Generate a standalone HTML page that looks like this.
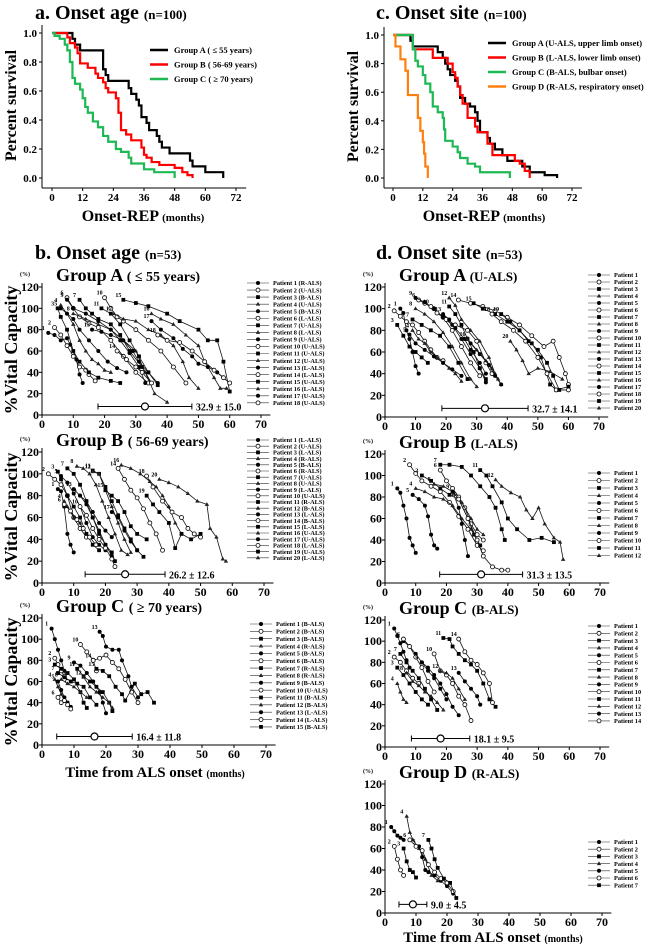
<!DOCTYPE html>
<html><head><meta charset="utf-8"><style>
body{margin:0;background:#fff;}
svg{display:block;font-family:"Liberation Serif",serif;font-weight:bold;}
</style></head><body>
<svg id="fig" width="667" height="949" viewBox="0 0 667 949" xmlns="http://www.w3.org/2000/svg">
<g id="static"></g>
</svg>
<script>
// ---- Survival data (time months, survival fraction) ----
const survATimes=[0,8,9,11,13,20,21,22,30,31,33,34,35,37,38,41,42,43,46,54,55,60,67];
const survAVals=[1,0.96,0.92,0.88,0.88,0.75,0.71,0.67,0.62,0.58,0.54,0.50,0.42,0.38,0.33,0.29,0.25,0.21,0.17,0.12,0.08,0.04,0];
const survBTimes=[0,6,7,9,10,11,14,17,18,20,21,22,25,26,27,29,31,35,36,37,39,42,48,51,53,55];
const survBVals=[1,0.97,0.93,0.90,0.86,0.79,0.76,0.72,0.69,0.66,0.62,0.59,0.55,0.45,0.33,0.30,0.26,0.21,0.16,0.14,0.11,0.09,0.07,0.04,0.02,0];
const survCTimes=[0,1,3,5,6,7,8,9,11,12,13,14,16,18,20,22,25,27,30,31,36,40,48];
const survCVals=[1,0.98,0.96,0.92,0.88,0.80,0.69,0.65,0.61,0.55,0.49,0.45,0.39,0.35,0.29,0.25,0.20,0.18,0.14,0.10,0.06,0.04,0];
const siteATimes=[0,7,8,18,20,21,22,23,25,26,27,29,31,33,34,35,38,39,41,44,46,52,55,61,66];
const siteAVals=[1,0.96,0.92,0.88,0.84,0.80,0.76,0.72,0.68,0.64,0.56,0.52,0.50,0.46,0.40,0.32,0.28,0.24,0.20,0.16,0.12,0.08,0.04,0.02,0];
const siteBTimes=[0,8,16,22,24,25,26,27,28,30,33,34,38,40,49,51,53,55];
const siteBVals=[1,0.90,0.84,0.80,0.74,0.70,0.64,0.58,0.52,0.42,0.36,0.32,0.24,0.16,0.12,0.10,0.05,0];
const siteCTimes=[0,8,9,10,12,13,15,16,18,20,20.5,21,24,26,27,30,33,35,47];
const siteCVals=[1,0.90,0.82,0.78,0.72,0.66,0.60,0.50,0.46,0.42,0.34,0.26,0.22,0.18,0.14,0.10,0.08,0.04,0];
const siteDTimes=[0,1,3,5,6,10,11,12,12.5,13,14];
const siteDVals=[1,0.92,0.83,0.75,0.58,0.42,0.33,0.25,0.17,0.08,0];
const survTicksX=[0,12,24,36,48,60,72];
const survTicksY=[0,0.2,0.4,0.6,0.8,1.0];
const vcTicksX=[0,10,20,30,40,50,60,70];
const vcTicksY=[0,20,40,60,80,100,120];

// ---- %VC trajectories ----
const bA=[
[[2,77],[4,75],[6,70],[8,72],[9,66],[11,52],[12,38],[13,30]],
[[4,82],[6,75],[8,65],[10,55],[12,45],[14,42],[15,38],[17,32]],
[[5,100],[6,92],[8,80],[10,60],[12,50],[15,40],[18,35],[22,32],[25,30]],
[[6,103],[8,95],[10,85],[12,70],[14,60],[16,52],[18,48],[20,42],[22,40]],
[[6,100],[8,95],[10,90],[12,80],[15,70],[18,60],[21,50],[24,44],[27,40]],
[[8,110],[10,100],[12,92],[15,86],[18,82],[22,70],[26,55],[30,40],[34,30]],
[[12,108],[14,100],[16,95],[18,90],[22,85],[25,75],[28,60],[32,45],[35,30]],
[[10,95],[14,90],[18,85],[22,80],[26,70],[30,60],[33,40],[36,20],[40,12]],
[[8,108],[10,100],[14,95],[18,88],[22,80],[25,70],[28,58],[31,45],[33,30]],
[[20,110],[22,100],[24,92],[26,88],[30,80],[34,70],[38,60],[42,45],[46,30]],
[[19,100],[22,95],[25,85],[28,70],[31,55],[34,40],[37,28]],
[[23,95],[26,90],[30,88],[34,80],[38,75],[42,65],[45,50],[47,35],[50,25]],
[[16,80],[19,78],[22,75],[26,70],[29,60],[31,50],[34,40],[37,30]],
[[24,60],[27,52],[30,45],[32,40],[35,30]],
[[26,108],[30,105],[34,102],[40,95],[44,88],[50,80],[53,70],[56,70],[58,50],[60,22]],
[[35,95],[38,90],[42,85],[46,75],[50,65],[52,50],[55,35],[57,25],[59,25]],
[[35,88],[38,80],[42,72],[45,62],[48,55],[50,48],[53,45],[56,40],[60,30]],
[[37,75],[40,70],[44,68],[48,60],[52,50],[55,42],[58,35],[60,30]]];
const bB=[
[[5,86],[6,84],[7,70],[8,45],[9,35],[10,28]],
[[2,100],[4,95],[6,90],[8,80],[10,60],[12,50],[14,42]],
[[5,102],[6,95],[8,80],[10,70],[12,60],[14,45],[16,35],[18,30]],
[[7,75],[8,70],[9,65],[10,60],[12,55]],
[[6,98],[8,92],[10,82],[12,70],[14,55],[16,42],[18,35],[20,30]],
[[7,72],[9,66],[11,58],[13,50],[15,42],[17,35]],
[[8,105],[10,100],[12,90],[14,75],[16,60],[18,45],[20,35],[22,28],[23,20]],
[[11,107],[13,105],[15,100],[17,90],[19,75],[21,60],[23,45],[25,30],[27,26]],
[[12,80],[14,72],[16,60],[18,48],[20,35],[22,25]],
[[12,70],[14,62],[16,50],[18,40],[20,32],[22,22],[23,15]],
[[16,103],[18,100],[20,88],[22,75],[24,62],[26,50],[28,40],[30,30],[32,24]],
[[16,102],[18,100],[20,85],[22,70],[24,55],[26,40],[28,28]],
[[10,86],[12,80],[14,75],[16,65],[18,55],[20,48],[22,42]],
[[24,105],[26,95],[28,85],[30,78],[32,68],[34,55],[36,45],[38,30]],
[[20,85],[22,80],[24,75],[26,65],[28,52],[30,45],[33,40]],
[[25,108],[28,105],[31,100],[34,93],[36,88],[38,80],[40,70],[42,55],[44,45]],
[[22,65],[24,60],[26,48],[28,38],[30,30]],
[[33,98],[35,88],[38,75],[41,65],[44,60],[46,50],[48,45],[50,42]],
[[33,80],[35,72],[37,65],[40,55],[42,32],[44,45],[47,40],[50,45]],
[[37,95],[40,92],[43,88],[46,82],[49,75],[52,72],[53,50],[55,42],[57,22],[58,20]]];
const bC=[
[[3,110],[4,100],[5,90],[6,80],[7,70],[8,60]],
[[4,82],[5,76],[6,70],[7,65],[8,60]],
[[4,76],[6,72],[8,68],[10,62],[12,50],[13,40],[14,35]],
[[4,62],[5,55],[6,48],[7,42],[8,38]],
[[5,60],[6,52],[7,45],[8,40],[9,36]],
[[5,45],[6,40],[7,42],[8,38],[9,34]],
[[5,68],[7,64],[9,60],[11,58],[13,55],[15,45],[17,38]],
[[6,62],[8,58],[10,55],[12,50],[14,45]],
[[10,78],[12,75],[14,68],[16,60],[18,50],[19,40],[20,30]],
[[12,95],[14,88],[16,80],[17,70]],
[[11,72],[13,65],[15,60],[17,55],[19,50],[21,40],[22,32]],
[[13,64],[15,55],[17,50],[19,45],[21,40],[22,35]],
[[18,107],[19,103],[20,93],[22,90],[24,90],[25,80],[27,65],[28,55],[30,45]],
[[16,80],[18,82],[20,85],[22,78],[24,72],[26,62],[28,50],[30,40]],
[[17,72],[19,70],[21,65],[23,55],[25,48],[26,42],[29,58],[31,48],[33,50],[35,40]]];
const dA=[
[[5,100],[6,96],[7,80],[8,72],[9,60],[10,47],[11,40]],
[[3,98],[5,93],[7,88],[9,85],[11,78],[13,70],[15,62],[17,55],[19,52]],
[[4,85],[6,75],[8,65],[10,60],[12,55],[14,50]],
[[9,80],[11,72],[13,68],[15,60],[17,55],[19,50],[21,45],[23,40],[25,33]],
[[8,76],[10,68],[13,62],[16,56],[19,50],[22,44],[25,38]],
[[11,108],[13,105],[16,100],[19,92],[22,80],[25,65],[28,50],[31,38]],
[[9,90],[12,85],[15,80],[18,75],[21,65],[24,50],[27,35]],
[[10,100],[13,95],[16,88],[19,78],[22,65],[25,50],[28,35],[30,28]],
[[10,110],[13,106],[16,100],[19,92],[22,85],[25,72],[28,58],[31,45],[33,32]],
[[15,102],[17,96],[20,90],[23,85],[27,80],[30,70],[33,50],[35,40]],
[[21,102],[23,95],[25,85],[27,72],[29,60],[31,45],[33,35]],
[[21,110],[23,103],[25,90],[28,80],[31,70],[34,55],[36,40],[38,30]],
[[19,95],[21,90],[23,82],[26,72],[28,62],[31,50],[33,40]],
[[24,108],[28,105],[32,102],[36,98],[40,92],[44,85],[48,75],[52,65],[55,70],[57,55],[59,40],[60,30]],
[[29,105],[32,100],[36,95],[40,88],[44,80],[48,68],[51,55],[54,30],[56,25],[60,28]],
[[27,72],[30,62],[33,52],[35,45],[37,35]],
[[28,68],[31,58],[34,48],[36,38],[38,30]],
[[35,95],[38,88],[42,80],[46,70],[50,55],[53,40],[56,25],[60,25]],
[[38,95],[41,88],[44,80],[47,70],[50,62],[53,50],[55,38],[57,25]],
[[41,70],[43,62],[45,52],[47,40],[50,45],[54,42],[58,35]]];
const dB=[
[[4,88],[5,84],[6,72],[7,60],[8,42],[9,35],[10,28]],
[[8,110],[10,102],[12,95],[15,90],[18,85],[21,75],[24,62],[27,50],[30,35],[32,30]],
[[12,100],[15,95],[18,88],[21,82],[24,78],[27,60],[29,45],[31,35]],
[[10,88],[13,85],[16,80],[19,78],[22,72],[25,60],[28,50],[30,40]],
[[9,82],[11,78],[13,72],[14,62],[15,45],[16,35],[17,32]],
[[18,105],[20,95],[22,88],[24,80],[26,70],[28,55],[30,45],[32,40]],
[[18,110],[21,110],[25,108],[28,100],[31,90],[34,80],[36,70],[38,50],[39,40]],
[[16,92],[19,90],[22,85],[25,75],[28,60],[30,50],[32,45]],
[[22,85],[24,70],[25,55],[26,40],[27,25]],
[[24,78],[27,60],[30,40],[32,25],[35,15],[38,12],[40,12]],
[[31,105],[33,100],[35,90],[38,75],[40,60],[43,50],[47,40],[51,42],[55,38]],
[[36,96],[38,90],[41,84],[44,80],[46,68],[48,60],[50,70],[52,55],[55,42],[57,38],[58,22]]];
const dC=[
[[3,112],[4,105],[5,98],[6,90],[7,82],[8,75]],
[[3,85],[5,80],[7,72],[9,65],[11,60]],
[[4,75],[6,68],[8,60],[10,52],[12,45],[14,40]],
[[4,60],[5,52],[6,45],[7,42]],
[[6,100],[8,95],[10,88],[12,80],[14,72],[16,65],[18,55],[20,45]],
[[6,102],[8,95],[10,85],[12,75],[14,62],[16,52]],
[[5,88],[7,80],[9,72],[11,65],[13,55],[15,45],[17,35]],
[[7,70],[9,62],[11,58],[13,52],[15,48],[17,42],[19,35]],
[[12,80],[14,75],[16,68],[18,60],[20,50],[22,38],[24,30]],
[[16,88],[18,72],[20,68],[22,60],[24,48],[26,40],[28,25]],
[[19,103],[21,102],[22,95],[24,88],[26,82],[28,78],[30,72],[32,60],[34,45],[36,38]],
[[18,72],[20,70],[22,65],[24,55],[26,45]],
[[24,70],[26,62],[28,55],[30,48],[31,40]],
[[24,102],[26,90],[28,82],[30,78],[32,70],[34,60],[35,42]]];
const dD=[
[[2,80],[3,76],[4,72],[5,70],[6,68]],
[[3,62],[4,50],[5,40],[6,35]],
[[6,60],[7,48],[8,40],[9,38],[10,33]],
[[7,90],[8,75],[9,68],[11,60],[13,50],[15,35],[17,30]],
[[11,62],[12,52],[13,40],[14,38],[16,35],[18,30],[20,25],[22,18]],
[[8,68],[10,62],[12,58],[14,45],[16,38],[18,32],[20,28],[22,20]],
[[14,68],[15,60],[16,50],[17,42],[19,32],[21,28],[23,14]]];
const bALabels=["R-ALS","U-ALS","B-ALS","U-ALS","B-ALS","L-ALS","U-ALS","L-ALS","U-ALS","U-ALS","U-ALS","U-ALS","L-ALS","L-ALS","U-ALS","L-ALS","U-ALS","U-ALS"];
const bBLabels=["L-ALS","U-ALS","L-ALS","R-ALS","B-ALS","R-ALS","U-ALS","U-ALS","L-ALS","U-ALS","R-ALS","B-ALS","L-ALS","B-ALS","L-ALS","U-ALS","U-ALS","L-ALS","U-ALS","L-ALS"];
const bCLabels=["B-ALS","B-ALS","B-ALS","R-ALS","B-ALS","B-ALS","R-ALS","R-ALS","B-ALS","U-ALS","B-ALS","B-ALS","L-ALS","L-ALS","B-ALS"];
const meanVals=[32.9,26.2,16.4,32.7,31.3,18.1,9.0];
const sdVals=[15.0,12.6,11.8,14.1,13.5,9.5,4.5];

const NS="http://www.w3.org/2000/svg";
const svg=document.getElementById('fig');
function el(tag,attrs,parent,text){const e=document.createElementNS(NS,tag);for(const k in attrs)e.setAttribute(k,attrs[k]);if(text!==undefined)e.textContent=text;(parent||svg).appendChild(e);return e;}

function txt(x,y,s,size,anchor,name,parent){const t=el('text',{x:x,y:y,'font-size':size,'text-anchor':anchor||'start'},parent,s);


return t;}

// ---- survival panels ----
function survPanel(cfg){
  const g=el('g',{});
  
  
  const sx=v=>cfg.x0+(cfg.x72-cfg.x0)*v/72, sy=v=>cfg.y0+(cfg.y1-cfg.y0)*v;
  el('line',{x1:cfg.ax,y1:cfg.y1-8,x2:cfg.ax,y2:cfg.axY,stroke:'#000','stroke-width':1},g);
  el('line',{x1:cfg.ax,y1:cfg.axY,x2:sx(76),y2:cfg.axY,stroke:'#000','stroke-width':1},g);
  survTicksX.forEach(t=>{el('line',{x1:sx(t),y1:cfg.axY,x2:sx(t),y2:cfg.axY+3,stroke:'#000'},g);txt(sx(t),cfg.axY+13,String(t),11,'middle','x-tick-label',g);});
  survTicksY.forEach(t=>{el('line',{x1:cfg.ax-3,y1:sy(t),x2:cfg.ax,y2:sy(t),stroke:'#000'},g);txt(cfg.ax-5,sy(t)+4,t.toFixed(1),11,'end','y-tick-label',g);});
  cfg.series.forEach(s=>{
    let d='M'+sx(s.t[0])+','+sy(s.v[0]);
    for(let i=1;i<s.t.length;i++){d+=' H'+sx(s.t[i])+' V'+sy(s.v[i]);}
    const p=el('path',{d:d,fill:'none',stroke:s.c,'stroke-width':2.2},g);
    
    
  });
  cfg.legend.forEach((l,i)=>{
    const y=cfg.ly+i*cfg.ld;
    el('line',{x1:cfg.lx,y1:y,x2:cfg.lx+18,y2:y,stroke:l[1],'stroke-width':2.5},g);
    txt(cfg.lx+24,y+3,l[0],8.5,'start','legend-entry',g);
  });
  const yl=txt(0,0,'Percent survival',16,'middle','y-axis-title',g);
  yl.setAttribute('transform','translate('+cfg.ylx+','+((cfg.y0+cfg.y1)/2)+') rotate(-90)');
  const xl=el('text',{x:cfg.xlx,y:cfg.axY+33,'font-size':16,'text-anchor':'middle'},g);
  
  
  el('tspan',{},xl,'Onset-REP ');el('tspan',{'font-size':11},xl,'(months)');
}
survPanel({name:'panel-a-survival',x0:52,x72:236,y0:178,y1:33,ax:42,axY:188,ylx:16,xlx:143,lx:150,ly:50,ld:14.5,
 series:[{t:survATimes,v:survAVals,c:'#000',n:'curve-group-a'},{t:survBTimes,v:survBVals,c:'#f00',n:'curve-group-b'},{t:survCTimes,v:survCVals,c:'#1db954',n:'curve-group-c'}],
 legend:[['Group A ( ≤ 55 years)','#000'],['Group B ( 56-69 years)','#f00'],['Group C ( ≥ 70 years)','#1db954']]});
survPanel({name:'panel-c-survival',x0:393,x72:572,y0:178,y1:35,ax:384,axY:188,ylx:358,xlx:484,lx:488,ly:43,ld:14.5,
 series:[{t:siteATimes,v:siteAVals,c:'#000',n:'curve-group-a'},{t:siteBTimes,v:siteBVals,c:'#f00',n:'curve-group-b'},{t:siteCTimes,v:siteCVals,c:'#1db954',n:'curve-group-c'},{t:siteDTimes,v:siteDVals,c:'#ff7f0e',n:'curve-group-d'}],
 legend:[['Group A (U-ALS, upper limb onset)','#000'],['Group B (L-ALS, lower limb onset)','#f00'],['Group C (B-ALS, bulbar onset)','#1db954'],['Group D (R-ALS, respiratory onset)','#ff7f0e']]});

// ---- VC panels ----
function marker(g,type,x,y){
  const m=type%4;let e;
  if(m===0)e=el('circle',{cx:x,cy:y,r:2,fill:'#000'},g);
  else if(m===1)e=el('circle',{cx:x,cy:y,r:2,fill:'#fff',stroke:'#000','stroke-width':0.8},g);
  else if(m===2)e=el('rect',{x:x-1.9,y:y-1.9,width:3.8,height:3.8,fill:'#000'},g);
  else e=el('path',{d:'M'+x+','+(y-2.3)+' l2.2,3.8 h-4.4z',fill:'#222'},g);
  
  
}
function vcPanel(cfg){
  const g=el('g',{});
  
  
  const sx=v=>cfg.x0+(cfg.x70-cfg.x0)*v/70, sy=v=>cfg.y0-(cfg.y0-cfg.y120)*v/120;
  el('line',{x1:cfg.x0,y1:cfg.y120-4,x2:cfg.x0,y2:cfg.y0,stroke:'#000','stroke-width':1},g);
  el('line',{x1:cfg.x0,y1:cfg.y0,x2:sx(73),y2:cfg.y0,stroke:'#000','stroke-width':1},g);
  vcTicksX.forEach(t=>{el('line',{x1:sx(t),y1:cfg.y0,x2:sx(t),y2:cfg.y0+3,stroke:'#000'},g);txt(sx(t),cfg.y0+13,String(t),12,'middle','x-tick-label',g);});
  vcTicksY.forEach(t=>{el('line',{x1:cfg.x0-3,y1:sy(t),x2:cfg.x0,y2:sy(t),stroke:'#000'},g);txt(cfg.x0-3,sy(t)+4,String(t),12,'end','y-tick-label',g);});
  txt(cfg.x0-22,cfg.y120-11,'(%)',6,'start','y-unit-label',g);
  const tt=el('text',{x:cfg.x0+14,y:cfg.y120-6,'font-size':18},g);
  
  
  el('tspan',{},tt,cfg.title);el('tspan',{'font-size':cfg.subSize||14},tt,cfg.sub);
  cfg.data.forEach((pts,i)=>{
    const sg=el('g',{},g);
    
    
    el('polyline',{points:pts.map(p=>sx(p[0])+','+sy(p[1])).join(' '),fill:'none',stroke:'#111','stroke-width':0.8},sg);
    pts.forEach(p=>marker(sg,i,sx(p[0]),sy(p[1])));
    txt(sx(pts[0][0])-5,sy(pts[0][1])-3,String(i+1),6,'middle','patient-number',sg);
  });
  const m=meanVals[cfg.k],s=sdVals[cfg.k],by=sy(8);
  el('line',{x1:sx(m-s),y1:by,x2:sx(m+s),y2:by,stroke:'#000','stroke-width':1},g);
  el('line',{x1:sx(m-s),y1:by-3,x2:sx(m-s),y2:by+3,stroke:'#000'},g);
  el('line',{x1:sx(m+s),y1:by-3,x2:sx(m+s),y2:by+3,stroke:'#000'},g);
  const c=el('circle',{cx:sx(m),cy:by,r:3.5,fill:'#fff',stroke:'#000','stroke-width':1.2},g);
  
  
  txt(sx(m+s)+4,by+4,m.toFixed(1)+' ± '+s.toFixed(1),10,'start','mean-sd-label',g);
  cfg.data.forEach((pts,i)=>{
    const y=cfg.ly+i*cfg.ld;
    const lg=el('g',{},g);
    
    
    el('line',{x1:cfg.lx,y1:y,x2:cfg.lx+22,y2:y,stroke:'#333','stroke-width':0.6},lg);
    marker(lg,i,cfg.lx+11,y);
    const lab='Patient '+(i+1)+(cfg.labels?'  ('+cfg.labels[i]+')':'');
    txt(cfg.lx+26,y+2.2,lab,6.3,'start','legend-label',lg);
  });
}
vcPanel({name:'panel-b-group-a',k:0,x0:42,x70:261,y120:287,y0:415,title:'Group A ',sub:'( ≤ 55 years)',data:bA,labels:bALabels,lx:247,ly:283,ld:7.05});
vcPanel({name:'panel-b-group-b',k:1,x0:42,x70:264,y120:452,y0:583,title:'Group B ',sub:'( 56-69 years)',data:bB,labels:bBLabels,lx:247,ly:440,ld:6.2});
vcPanel({name:'panel-b-group-c',k:2,x0:42,x70:266,y120:618,y0:745,title:'Group C ',sub:'( ≥ 70 years)',data:bC,labels:bCLabels,lx:250,ly:624,ld:7.35});
vcPanel({name:'panel-d-group-a',k:3,x0:385,x70:599,y120:287,y0:417,title:'Group A ',sub:'(U-ALS)',subSize:13,data:dA,lx:588,ly:275,ld:7.0});
vcPanel({name:'panel-d-group-b',k:4,x0:385,x70:600,y120:454,y0:583,title:'Group B ',sub:'(L-ALS)',subSize:13,data:dB,lx:588,ly:473,ld:7.5});
vcPanel({name:'panel-d-group-c',k:5,x0:385,x70:600,y120:620,y0:747,title:'Group C ',sub:'(B-ALS)',subSize:13,data:dC,lx:588,ly:626,ld:7.3});
vcPanel({name:'panel-d-group-d',k:6,x0:385,x70:602,y120:784,y0:913,title:'Group D ',sub:'(R-ALS)',subSize:13,data:dD,lx:588,ly:842,ld:7.2});

// ---- headers and shared labels ----
function header(x,y,a,b,name){const t=el('text',{x:x,y:y,'font-size':20});


el('tspan',{},t,a);el('tspan',{'font-size':13},t,b);}
header(35,19,'a. Onset age  ','(n=100)','panel-a-title');
header(376,19,'c. Onset site  ','(n=100)','panel-c-title');
header(35,259,'b. Onset age  ','(n=53)','panel-b-title');
header(376,259,'d. Onset site  ','(n=53)','panel-d-title');
[350,517,682].forEach(cy=>{const t=txt(0,0,'%Vital Capacity',18,'middle','y-axis-title');t.setAttribute('transform','translate(17,'+cy+') rotate(-90)');});
[[155,777],[493,942]].forEach(p=>{const t=el('text',{x:p[0],y:p[1],'font-size':15,'text-anchor':'middle'});


el('tspan',{},t,'Time from ALS onset ');el('tspan',{'font-size':10},t,'(months)');});
</script>
</body></html>
